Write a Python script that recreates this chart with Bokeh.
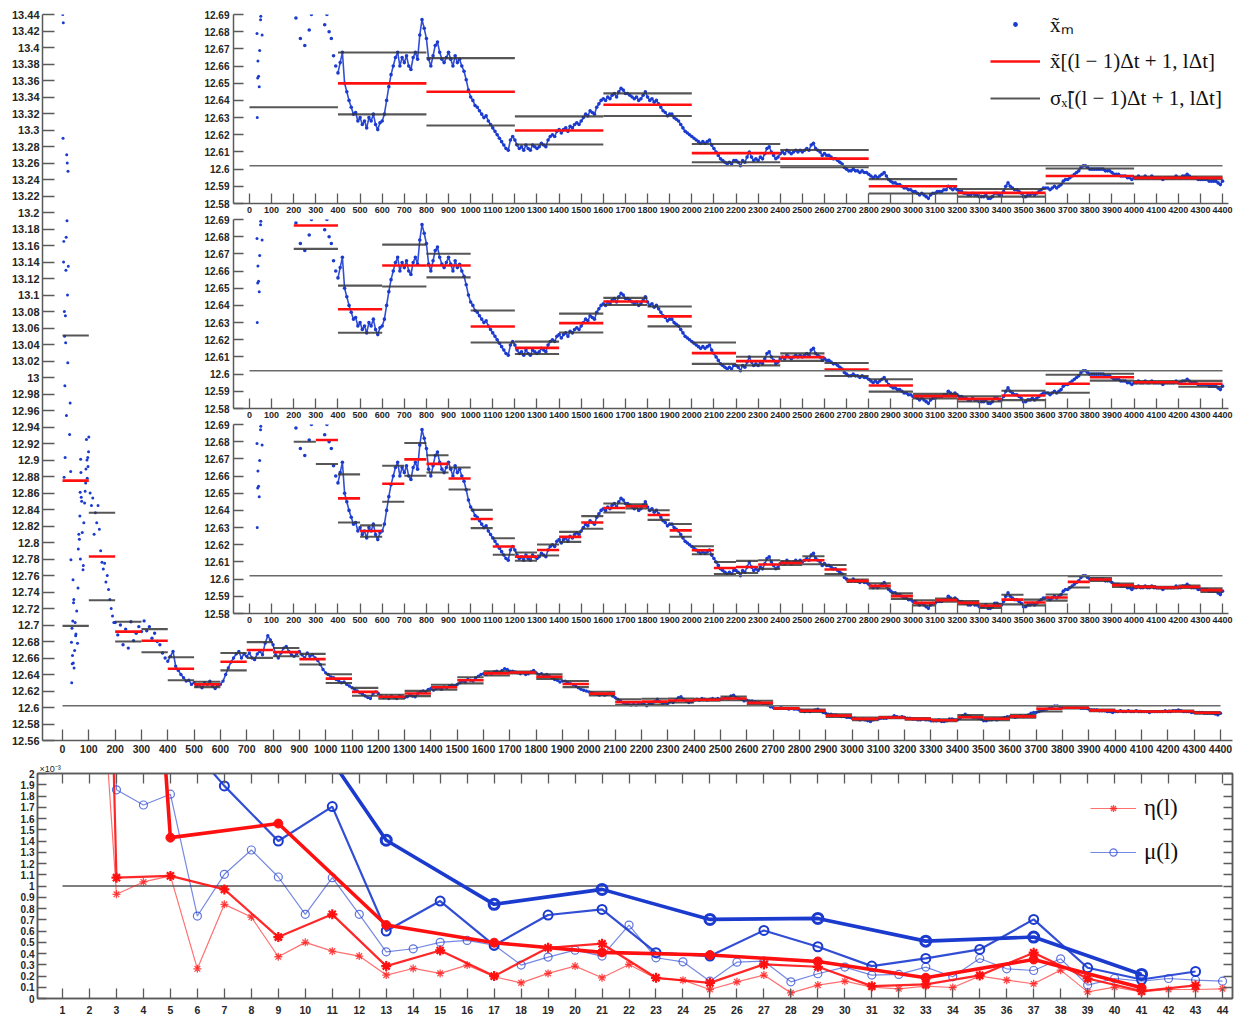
import numpy as np
from bokeh.plotting import figure
from bokeh.models import (Range1d, FixedTicker, CustomJSTickFormatter, LinearAxis,
                          Legend, LegendItem, ColumnDataSource)
from bokeh.embed import file_html
from bokeh.resources import INLINE

# ------------------------------------------------------------------ data
X_TRUE = 12.602          # reference level (horizontal line)
THRESHOLD = 1.0          # x 1e-3, horizontal line in lower panel

# early, very noisy samples (m, value)
EARLY_M = [1, 2, 3, 4, 5, 6, 7, 8, 9, 10, 11, 12, 13, 14, 15, 16, 17, 18, 19, 20, 21, 22,
           27, 29, 31, 32, 34, 35, 36, 37, 38, 39, 40, 41, 42, 43, 44,
           46, 48, 50, 51, 54, 57, 59, 60, 62, 64,
           66, 67, 68, 69, 70, 71, 73, 75, 78, 79,
           81, 84, 86, 88, 89, 91, 93, 94, 96, 97, 99,
           100, 105, 110, 115, 120, 125, 130, 135, 140, 145, 150, 155, 160, 165, 170,
           175, 180, 185, 190, 195]
EARLY_X = [13.44, 13.29, 13.43, 13.14, 13.165, 12.879, 13.08, 13.05, 12.99, 12.903,
           13.075, 13.042, 13.13, 13.17, 12.954, 13.27, 13.19, 13.26, 13.10, 13.018,
           13.25, 13.135,
           12.931, 12.969, 12.886, 12.779, 12.679, 12.630, 12.696, 12.653, 12.663, 12.705,
           12.755, 12.654, 12.727, 12.731, 12.648,
           12.669, 12.703, 12.687, 12.689, 12.717, 12.678, 12.745, 12.792, 12.81, 12.804,
           12.832, 12.861, 12.78, 12.901, 12.885, 12.855, 12.85, 12.812, 12.767, 12.772,
           12.824, 12.848, 12.862, 12.872, 12.889, 12.925, 12.9, 12.878, 12.903, 12.892, 12.91,
           12.928, 12.86, 12.845, 12.854, 12.81, 12.836, 12.824, 12.845, 12.816, 12.79,
           12.776, 12.768, 12.775, 12.752, 12.76, 12.743, 12.731, 12.72, 12.711, 12.703]

# m = 200, 210, ..., 4400
XM_DENSE = [12.703,
    12.688, 12.700, 12.676, 12.695, 12.672, 12.704, 12.681, 12.690, 12.698, 12.692,   # 210-300
    12.705, 12.693, 12.698, 12.684, 12.690, 12.680, 12.676, 12.666, 12.660, 12.656,   # 310-400
    12.662, 12.668, 12.650, 12.645, 12.640, 12.636, 12.632, 12.633, 12.628, 12.630,   # 410-500
    12.626, 12.628, 12.624, 12.630, 12.628, 12.632, 12.626, 12.623, 12.627, 12.628,   # 510-600
    12.632, 12.640, 12.648, 12.655, 12.660, 12.665, 12.668, 12.660, 12.665, 12.662,   # 610-700
    12.666, 12.660, 12.658, 12.665, 12.668, 12.664, 12.678, 12.687, 12.682, 12.676,   # 710-800
    12.664, 12.660, 12.666, 12.672, 12.674, 12.668, 12.664, 12.662, 12.665, 12.668,   # 810-900
    12.664, 12.660, 12.666, 12.662, 12.664, 12.660, 12.657, 12.652, 12.646, 12.642,   # 910-1000
    12.640, 12.637, 12.636, 12.634, 12.632, 12.630, 12.631, 12.628, 12.626, 12.624,   # 1010-1100
    12.622, 12.620, 12.618, 12.616, 12.614, 12.612, 12.611, 12.617, 12.619, 12.617,   # 1110-1200
    12.614, 12.612, 12.613, 12.611, 12.614, 12.612, 12.611, 12.614, 12.613, 12.612,   # 1210-1300
    12.613, 12.615, 12.614, 12.613, 12.617, 12.619, 12.620, 12.619, 12.622, 12.623,   # 1310-1400
    12.621, 12.623, 12.624, 12.622, 12.625, 12.624, 12.626, 12.627, 12.626, 12.628,   # 1410-1500
    12.630, 12.632, 12.631, 12.634, 12.633, 12.632, 12.636, 12.638, 12.640, 12.641,   # 1510-1600
    12.640, 12.642, 12.641, 12.643, 12.644, 12.642, 12.645, 12.647, 12.646, 12.644,   # 1610-1700
    12.644, 12.643, 12.642, 12.641, 12.642, 12.640, 12.641, 12.643, 12.645, 12.642,   # 1710-1800
    12.640, 12.641, 12.639, 12.640, 12.638, 12.636, 12.634, 12.633, 12.631, 12.632,   # 1810-1900
    12.632, 12.630, 12.629, 12.628, 12.626, 12.624, 12.622, 12.621, 12.620, 12.619,   # 1910-2000
    12.618, 12.617, 12.616, 12.615, 12.616, 12.615, 12.616, 12.617, 12.614, 12.612,   # 2010-2100
    12.610, 12.608, 12.606, 12.605, 12.604, 12.603, 12.604, 12.603, 12.605, 12.605,   # 2110-2200
    12.604, 12.602, 12.605, 12.604, 12.607, 12.610, 12.607, 12.605, 12.606, 12.605,   # 2210-2300
    12.607, 12.606, 12.609, 12.612, 12.613, 12.610, 12.608, 12.606, 12.607, 12.609,   # 2310-2400
    12.610, 12.609, 12.611, 12.610, 12.609, 12.610, 12.611, 12.610, 12.611, 12.610,   # 2410-2500
    12.611, 12.612, 12.611, 12.614, 12.615, 12.612, 12.611, 12.610, 12.608, 12.609,   # 2510-2600
    12.608, 12.608, 12.607, 12.606, 12.606, 12.605, 12.604, 12.603, 12.601, 12.600,   # 2610-2700
    12.599, 12.599, 12.600, 12.599, 12.599, 12.598, 12.599, 12.598, 12.598, 12.597,   # 2710-2800
    12.596, 12.595, 12.596, 12.595, 12.596, 12.597, 12.598, 12.596, 12.594, 12.593,   # 2810-2900
    12.592, 12.592, 12.591, 12.591, 12.590, 12.589, 12.589, 12.588, 12.588, 12.587,   # 2910-3000
    12.587, 12.586, 12.585, 12.586, 12.585, 12.584, 12.583, 12.585, 12.586, 12.586,   # 3010-3100
    12.587, 12.587, 12.587, 12.588, 12.588, 12.590, 12.589, 12.588, 12.589, 12.588,   # 3110-3200
    12.587, 12.587, 12.586, 12.586, 12.585, 12.585, 12.586, 12.585, 12.585, 12.584,   # 3210-3300
    12.584, 12.584, 12.585, 12.583, 12.583, 12.584, 12.586, 12.586, 12.585, 12.585,   # 3310-3400
    12.587, 12.590, 12.592, 12.590, 12.589, 12.588, 12.588, 12.587, 12.586, 12.584,   # 3410-3500
    12.584, 12.585, 12.585, 12.586, 12.585, 12.586, 12.587, 12.588, 12.589, 12.589,   # 3510-3600
    12.589, 12.588, 12.589, 12.590, 12.589, 12.590, 12.591, 12.593, 12.594, 12.594,   # 3610-3700
    12.595, 12.596, 12.597, 12.598, 12.599, 12.601, 12.602, 12.602, 12.601, 12.600,   # 3710-3800
    12.600, 12.600, 12.600, 12.600, 12.600, 12.600, 12.599, 12.599, 12.599, 12.598,   # 3810-3900
    12.597, 12.597, 12.597, 12.596, 12.596, 12.596, 12.595, 12.595, 12.594, 12.595,   # 3910-4000
    12.595, 12.596, 12.595, 12.595, 12.596, 12.595, 12.595, 12.596, 12.595, 12.595,   # 4010-4100
    12.595, 12.595, 12.594, 12.595, 12.595, 12.595, 12.595, 12.595, 12.596, 12.595,   # 4110-4200
    12.595, 12.596, 12.596, 12.597, 12.596, 12.595, 12.595, 12.595, 12.594, 12.594,   # 4210-4300
    12.594, 12.594, 12.594, 12.593, 12.593, 12.593, 12.593, 12.592, 12.591, 12.593,   # 4310-4400
]
M_DENSE = list(range(200, 200 + 10 * len(XM_DENSE), 10))
SMOOTH_FROM = 400        # the trace is drawn as a continuous band from here on

# window means and standard deviations, dt = 100, 200, 400
DT100_MEAN = [12.875, 12.783, 12.692, 12.681, 12.647, 12.628, 12.6555, 12.6697, 12.6671, 12.6586,
              12.635, 12.619, 12.6131, 12.617, 12.6246, 12.633, 12.6414, 12.6424, 12.6373, 12.6284,
              12.6168, 12.6065, 12.6071, 12.6085, 12.6094, 12.611, 12.6056, 12.599, 12.5961, 12.5901,
              12.5862, 12.5878, 12.5862, 12.5845, 12.5881, 12.5864, 12.5893, 12.5984, 12.5998, 12.5965,
              12.5955, 12.5951, 12.5955, 12.5936]
DT100_SIGMA = [0.176, 0.053, 0.012, 0.014, 0.014, 0.0033, 0.0105, 0.0095, 0.005, 0.0064,
               0.0053, 0.0048, 0.0024, 0.0032, 0.0029, 0.0037, 0.0026, 0.0012, 0.0028, 0.0037,
               0.0023, 0.0035, 0.0035, 0.0025, 0.0011, 0.0023, 0.0026, 0.0007, 0.0015, 0.0016,
               0.0015, 0.0009, 0.001, 0.0012, 0.0028, 0.0017, 0.0018, 0.0033, 0.0008, 0.001,
               0.0005, 0.0005, 0.0007, 0.001]
DT200_MEAN = [12.829, 12.6865, 12.6378, 12.6632, 12.6632, 12.6277, 12.6153, 12.6297, 12.6423, 12.6336,
              12.6122, 12.6076, 12.6099, 12.6027, 12.5934, 12.5872, 12.5856, 12.5876, 12.5944, 12.5982,
              12.5953, 12.5944]
DT200_SIGMA = [0.135, 0.0136, 0.0137, 0.0122, 0.0069, 0.0093, 0.0036, 0.0055, 0.0021, 0.0058,
               0.0062, 0.0025, 0.0022, 0.0038, 0.0036, 0.0013, 0.0015, 0.0027, 0.0052, 0.002,
               0.0007, 0.0017]
DT400_MEAN = [12.758, 12.6499, 12.645, 12.6225, 12.6375, 12.6093, 12.6061, 12.59, 12.5862, 12.596, 12.5949]
DT400_SIGMA = [0.122, 0.018, 0.0196, 0.0082, 0.0066, 0.0053, 0.005, 0.0042, 0.0022, 0.0044, 0.0008]

# lower panel (values x 1e-3)
ETA100 = [12.0, 4.5, 0.926, 1.036, 1.09, 0.264, 0.837, 0.724, 0.371, 0.499, 0.421, 0.377, 0.208,
          0.267, 0.223, 0.297, 0.193, 0.139, 0.223, 0.288, 0.184, 0.303, 0.178, 0.163, 0.08,
          0.148, 0.208, 0.05, 0.119, 0.154, 0.101, 0.086, 0.11, 0.098, 0.199, 0.163, 0.131,
          0.252, 0.059, 0.101, 0.059, 0.08, 0.08, 0.086]
MU100 = [20.0, 15.0, 1.855, 1.72, 1.816, 0.733, 1.104, 1.32, 1.08, 0.748, 1.074, 0.748, 0.415,
         0.442, 0.499, 0.516, 0.475, 0.297, 0.368, 0.43, 0.377, 0.653, 0.362, 0.326, 0.154,
         0.323, 0.332, 0.148, 0.22, 0.279, 0.208, 0.214, 0.279, 0.193, 0.356, 0.264, 0.249,
         0.353, 0.119, 0.178, 0.154, 0.178, 0.163, 0.154]
ETA200 = [20.0, 1.074, 1.09, 0.97, 0.546, 0.748, 0.288, 0.427, 0.199, 0.451, 0.487, 0.184, 0.139,
          0.303, 0.282, 0.11, 0.125, 0.205, 0.407, 0.178, 0.065, 0.116]
MU200 = [30.0, 6.0, 2.44, 1.89, 1.40, 1.706, 0.60, 0.866, 0.472, 0.742, 0.792, 0.407, 0.377,
         0.605, 0.46, 0.288, 0.356, 0.436, 0.703, 0.273, 0.169, 0.24]
ETA400 = [15.0, 1.43, 1.555, 0.653, 0.496, 0.41, 0.386, 0.329, 0.184, 0.347, 0.095]
MU400 = [40.0, 5.0, 2.81, 1.407, 0.837, 0.97, 0.703, 0.712, 0.51, 0.546, 0.214]

M_TICKS = list(range(0, 4401, 100))
MAIN_Y_TICKS = [round(12.56 + 0.02 * i, 2) for i in range(45)]
INSET_Y_TICKS = [round(12.58 + 0.01 * i, 2) for i in range(12)]
L_TICKS = list(range(1, 45))
LOW_Y_TICKS = [round(0.1 * i, 1) for i in range(21)]

# ------------------------------------------------------------------ style
FONT = "Liberation Sans"
SERIF = "Liberation Serif"
AX = "#5a5a5a"
TXT = "#262626"
BLUE = "#1b3bcf"
RED = "#ff1010"
DARK = "#383838"

fmt2 = CustomJSTickFormatter(code="return String(Number(tick.toFixed(2)));")
fmt1 = CustomJSTickFormatter(code="return String(Number(tick.toFixed(1)));")


def style_axis(ax, size, tick_in, standoff=3):
    ax.axis_line_color = AX
    ax.axis_line_width = 1.5
    ax.major_tick_line_color = AX
    ax.major_tick_line_width = 1.3
    ax.major_tick_in = tick_in
    ax.major_tick_out = 0
    ax.minor_tick_line_color = None
    ax.major_label_text_font = FONT
    ax.major_label_text_font_style = "bold"
    ax.major_label_text_font_size = size
    ax.major_label_text_color = TXT
    ax.major_label_standoff = standoff


def window_source(means, sigmas, dt):
    mean = np.array(means)
    sig = np.array(sigmas)
    idx = np.arange(len(means))
    return ColumnDataSource(dict(x0=idx * dt, x1=(idx + 1) * dt, mean=mean,
                                 up=mean + sig, lo=mean - sig))


early_src = ColumnDataSource(dict(m=EARLY_M, x=EARLY_X))
dense_src = ColumnDataSource(dict(m=M_DENSE, x=XM_DENSE))
k0 = M_DENSE.index(SMOOTH_FROM)
band_src = ColumnDataSource(dict(m=M_DENSE[k0:], x=XM_DENSE[k0:]))


def draw_series(p, means, sigmas, dt, dot_size):
    ws = window_source(means, sigmas, dt)
    p.scatter("m", "x", source=early_src, size=3.0, color=BLUE, line_color=None)
    p.line("m", "x", source=band_src, line_color=BLUE, line_width=1.6, line_alpha=0.9)
    r_dots = p.scatter("m", "x", source=dense_src, size=dot_size, color=BLUE, line_color=None)
    r_up = p.segment("x0", "up", "x1", "up", source=ws, line_color=DARK, line_width=2.1, line_alpha=0.85)
    p.segment("x0", "lo", "x1", "lo", source=ws, line_color=DARK, line_width=2.1, line_alpha=0.85)
    r_mean = p.segment("x0", "mean", "x1", "mean", source=ws, line_color=RED, line_width=2.6)
    n_end = len(means) * dt
    p.segment(x0=[0], y0=[X_TRUE], x1=[n_end], y1=[X_TRUE], line_color="#6a6a6a", line_width=1.5)
    return r_dots, r_mean, r_up


# ------------------------------------------------------------------ main panel
main = figure(width=1236, height=756, x_range=Range1d(-76, 4445.6), y_range=Range1d(12.56, 13.44),
              output_backend="svg", toolbar_location=None,
              min_border_left=42, min_border_right=4, min_border_top=14, min_border_bottom=16)
main.outline_line_color = None
main.grid.visible = False
main.xaxis.ticker = FixedTicker(ticks=M_TICKS)
main.yaxis.ticker = FixedTicker(ticks=MAIN_Y_TICKS)
main.yaxis.formatter = fmt2
style_axis(main.xaxis[0], "10.5px", 11, standoff=4)
style_axis(main.yaxis[0], "11px", 12, standoff=3)
draw_series(main, DT100_MEAN, DT100_SIGMA, 100, 3.4)


# ------------------------------------------------------------------ insets
def make_inset(top, means, sigmas, dt, with_legend=False):
    p = figure(width=1042, height=211, x_range=Range1d(-72.4, 4427), y_range=Range1d(12.58, 12.69),
               output_backend="svg", toolbar_location=None,
               min_border_left=40, min_border_right=7, min_border_top=6, min_border_bottom=16,
               styles={"position": "absolute", "left": "193px", "top": f"{top}px"})
    p.background_fill_alpha = 0
    p.border_fill_alpha = 0
    p.outline_line_color = None
    p.grid.visible = False
    p.xaxis.ticker = FixedTicker(ticks=M_TICKS)
    p.yaxis.ticker = FixedTicker(ticks=INSET_Y_TICKS)
    p.yaxis.formatter = fmt2
    style_axis(p.xaxis[0], "9px", 10, standoff=3)
    style_axis(p.yaxis[0], "10px", 10, standoff=4)
    r_dots, r_mean, r_up = draw_series(p, means, sigmas, dt, 3.6)
    if with_legend:
        leg = Legend(items=[
            LegendItem(label="x\u0303\u2098", renderers=[r_dots]),
            LegendItem(label="x\u0303[(l \u2212 1)\u0394t + 1, l\u0394t]", renderers=[r_mean]),
            LegendItem(label="\u03c3\u2093\u0303[(l \u2212 1)\u0394t + 1, l\u0394t]", renderers=[r_up]),
        ], location=(757, 90), orientation="vertical")
        leg.label_text_font = SERIF
        leg.label_text_font_size = "21px"
        leg.label_text_color = "#111111"
        leg.glyph_width = 50
        leg.glyph_height = 12
        leg.label_height = 30
        leg.label_standoff = 10
        leg.spacing = 7
        leg.padding = 0
        leg.margin = 0
        leg.border_line_color = None
        leg.background_fill_alpha = 0
        p.add_layout(leg)
    return p


ins1 = make_inset(8, DT400_MEAN, DT400_SIGMA, 400, with_legend=True)
ins2 = make_inset(213, DT200_MEAN, DT200_SIGMA, 200)
ins3 = make_inset(418, DT100_MEAN, DT100_SIGMA, 100)

# ------------------------------------------------------------------ lower panel
bot = figure(width=1239, height=263, x_range=Range1d(0.0733, 44.37), y_range=Range1d(0, 2),
             output_backend="svg", toolbar_location=None,
             min_border_left=37, min_border_right=7, min_border_top=17, min_border_bottom=21,
             styles={"position": "absolute", "left": "0px", "top": "756px"})
bot.grid.visible = False
bot.outline_line_color = AX
bot.outline_line_width = 1.5
bot.title.text = "\u00d710\u207b\u00b3"
bot.title.text_font = FONT
bot.title.text_font_size = "9px"
bot.title.text_font_style = "normal"
bot.title.text_color = TXT
bot.title.align = "left"
bot.title.offset = 2
bot.title.standoff = 0
bot.xaxis.ticker = FixedTicker(ticks=L_TICKS)
bot.yaxis.ticker = FixedTicker(ticks=LOW_Y_TICKS)
bot.yaxis.formatter = fmt1
style_axis(bot.xaxis[0], "10.5px", 10, standoff=7)
style_axis(bot.yaxis[0], "10px", 9, standoff=3)
top_ax = LinearAxis(ticker=FixedTicker(ticks=L_TICKS))
right_ax = LinearAxis(ticker=FixedTicker(ticks=LOW_Y_TICKS))
for ax, tin in ((top_ax, 10), (right_ax, 9)):
    style_axis(ax, "0px", tin, standoff=0)
    ax.major_label_text_alpha = 0
bot.add_layout(top_ax, "above")
bot.add_layout(right_ax, "right")

bot.segment(x0=[1], y0=[THRESHOLD], x1=[len(ETA100)], y1=[THRESHOLD], line_color="#555555", line_width=1.5)


def curve_x(vals, dt):
    return [i * dt / 100 + 1 for i in range(len(vals))]


# thin (dt=100)
x1 = curve_x(MU100, 100)
r_mu_l = bot.line(x1, MU100, color=BLUE, line_width=1.2, alpha=0.6)
r_mu_m = bot.scatter(x1, MU100, marker="circle", size=8, line_color=BLUE, fill_color=None,
                     line_width=1.2, line_alpha=0.7)
x1e = curve_x(ETA100, 100)
r_eta_l = bot.line(x1e, ETA100, color=RED, line_width=1.2, alpha=0.6)
r_eta_m = bot.scatter(x1e, ETA100, marker="asterisk", size=8, line_color=RED, line_width=1.3, line_alpha=0.75)
# medium (dt=200)
x2 = curve_x(MU200, 200)
bot.line(x2, MU200, color=BLUE, line_width=2.2, alpha=0.9)
bot.scatter(x2, MU200, marker="circle", size=9, line_color=BLUE, fill_color=None, line_width=2)
x2e = curve_x(ETA200, 200)
bot.line(x2e, ETA200, color=RED, line_width=2.2, alpha=0.9)
bot.scatter(x2e, ETA200, marker="asterisk", size=10, line_color=RED, line_width=2.2)
# thick (dt=400)
x4 = curve_x(MU400, 400)
bot.line(x4, MU400, color=BLUE, line_width=3.6)
bot.scatter(x4, MU400, marker="circle", size=10, line_color=BLUE, fill_color=None, line_width=3)
x4e = curve_x(ETA400, 400)
bot.line(x4e, ETA400, color=RED, line_width=3.6)
bot.scatter(x4e, ETA400, marker="circle", size=9, color=RED)

leg2 = Legend(items=[
    LegendItem(label="\u03b7(l)", renderers=[r_eta_l, r_eta_m]),
    LegendItem(label="\u03bc(l)", renderers=[r_mu_l, r_mu_m]),
], location=(1053, 131))
leg2.label_text_font = SERIF
leg2.label_text_font_size = "23px"
leg2.label_text_color = "#111111"
leg2.glyph_width = 46
leg2.glyph_height = 18
leg2.label_height = 30
leg2.label_standoff = 8
leg2.spacing = 14
leg2.padding = 0
leg2.margin = 0
leg2.border_line_color = None
leg2.background_fill_alpha = 0
bot.add_layout(leg2)

open("out.html", "w").write(file_html([main, ins1, ins2, ins3, bot], INLINE))
